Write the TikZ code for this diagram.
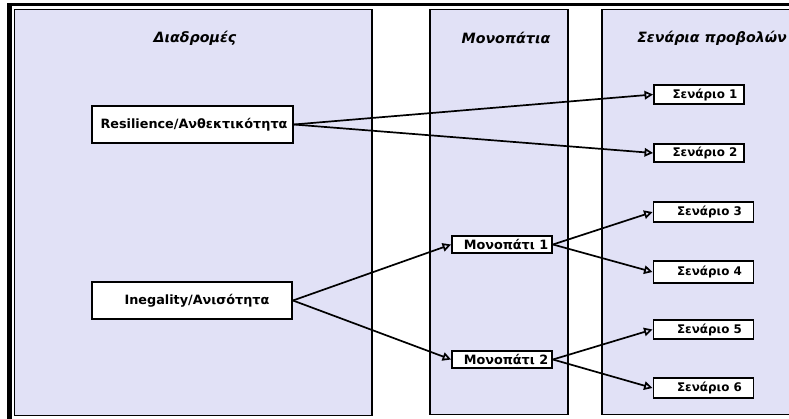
\documentclass[tikz,border=0pt]{standalone}
\usepackage{fontspec}
\setmainfont{DejaVu Sans}
\usetikzlibrary{arrows.meta}
\definecolor{lav}{RGB}{225,225,246}
\tikzset{
  col/.style={draw=black, line width=1.6pt, fill=lav},
  ttl/.style={font=\fontsize{14.2}{16}\selectfont\bfseries\itshape, anchor=center},
  box/.style={draw=black, line width=1.9pt, fill=white, inner sep=0pt, font=\fontsize{12.8}{14}\selectfont\bfseries},
  sbox/.style={box, font=\fontsize{11.9}{14}\selectfont\bfseries},
  conn/.style={line width=1.7pt, -{Triangle[open, length=8.5pt, width=8.5pt]}},
}
\begin{document}
\begin{tikzpicture}[x=1pt, y=-1pt]
\useasboundingbox (0,0) rectangle (789,419);
% outer frame
\fill[black] (7,3) rectangle (12,419);
\fill[black] (7,3) rectangle (789,6);
% columns
\draw[col] (14.5,9.5) rectangle (372,415.5);
\draw[col] (430,9.5) rectangle (568,414.5);
\draw[col] (602,9.5) rectangle (795,414.5);
\node[ttl] (t1) at (195,38) {Διαδρομές};
\node[ttl] (t2) at (506,38) {Μονοπάτια};
\node[ttl] (t3) at (712,38) {Σενάρια προβολών};
% nodes
\node[box, minimum width=201pt, minimum height=37pt] (res) at (192.5,124.5) {\hspace*{3pt}Resilience/Ανθεκτικότητα};
\node[box, minimum width=200pt, minimum height=37pt] (ine) at (192,300.5) {\hspace*{10pt}Inegality/Ανισότητα};
\node[box, minimum width=100pt, minimum height=17pt] (m1) at (502,244.5) {\hspace*{8pt}Μονοπάτι 1};
\node[box, minimum width=100pt, minimum height=17pt] (m2) at (502,359.5) {\hspace*{8pt}Μονοπάτι 2};
\node[sbox, minimum width=90pt, minimum height=19pt] (s1) at (699,94.5) {\hspace*{12pt}Σενάριο 1};
\node[sbox, minimum width=90pt, minimum height=18pt] (s2) at (699,153) {\hspace*{12pt}Σενάριο 2};
\node[sbox, minimum width=100pt, minimum height=20pt] (s3) at (703.5,212) {\hspace*{12pt}Σενάριο 3};
\node[sbox, minimum width=100pt, minimum height=22pt] (s4) at (703.5,272) {\hspace*{12pt}Σενάριο 4};
\node[sbox, minimum width=100pt, minimum height=19pt] (s5) at (703.5,329.5) {\hspace*{12pt}Σενάριο 5};
\node[sbox, minimum width=100pt, minimum height=20pt] (s6) at (703.5,388) {\hspace*{12pt}Σενάριο 6};
% connectors
\draw[conn] (res.east) -- (s1.west);
\draw[conn] (res.east) -- (s2.west);
\draw[conn] (ine.east) -- (m1.west);
\draw[conn] (ine.east) -- (m2.west);
\draw[conn] (m1.east) -- (s3.west);
\draw[conn] (m1.east) -- (s4.west);
\draw[conn] (m2.east) -- (s5.west);
\draw[conn] (m2.east) -- (s6.west);
\end{tikzpicture}
\end{document}
